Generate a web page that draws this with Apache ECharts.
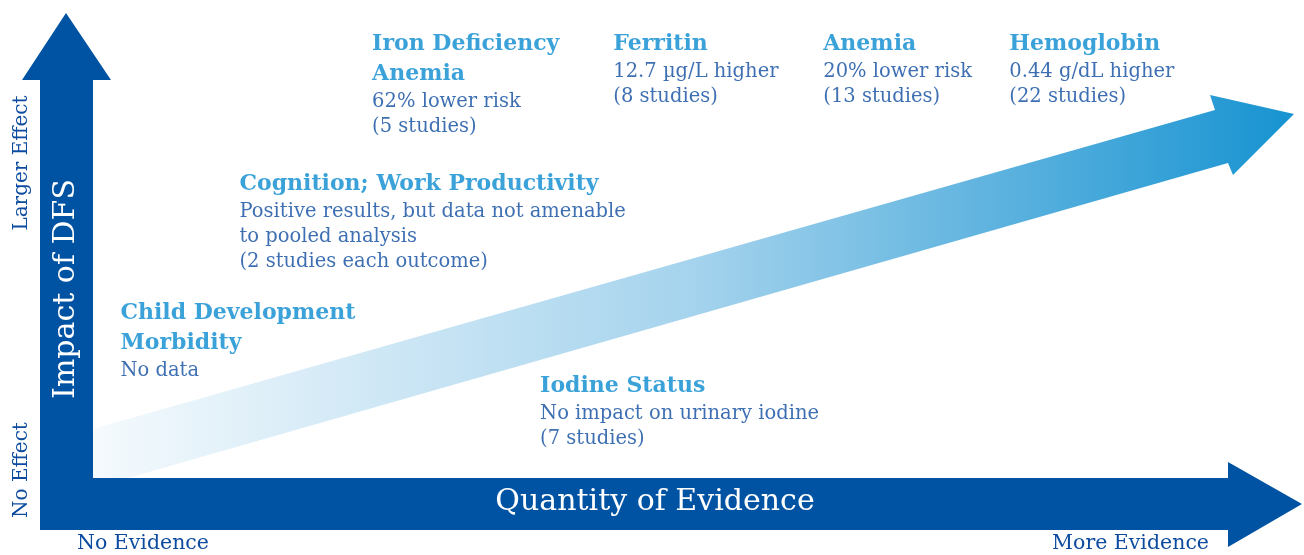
<!DOCTYPE html>
<html lang="en">
<head>
<meta charset="UTF-8">
<title>Impact of DFS vs Quantity of Evidence</title>
<script src="https://cdn.jsdelivr.net/npm/echarts@6/dist/echarts.min.js"></script>
<style>
  html, body { margin: 0; padding: 0; background: #fff; }
  #main { width: 1304px; height: 555px; }
</style>
</head>
<body>
<div id="main"></div>
<script>
// outcomes placed by quantity of evidence (x, 0-100) and impact of DFS (y, 0-100)
var outcomes = ['Iron Deficiency\nAnemia', 'Ferritin', 'Anemia', 'Hemoglobin',
                'Cognition; Work Productivity', 'Child Development\nMorbidity', 'Iodine Status'];
var findings = ['62% lower risk\n(5 studies)', '12.7 µg/L higher\n(8 studies)',
                '20% lower risk\n(13 studies)', '0.44 g/dL higher\n(22 studies)',
                'Positive results, but data not amenable\nto pooled analysis\n(2 studies each outcome)',
                'No data', 'No impact on urinary iodine\n(7 studies)'];
var evidence = [23.3, 43.4, 60.9, 76.4, 12.25, 2.33, 37.3];
var impact = [93.7, 93.7, 93.7, 93.7, 64.4, 37.4, 22.2];

var FONT = '"DejaVu Serif", serif';
var DARK = '#0053a3';
var TITLE = '#0a8bd0';
var BODY = '#0c4b9f';

var myChart = echarts.init(document.getElementById('main'));

var points = outcomes.map(function (name, i) {
  return { value: [evidence[i], impact[i]], name: name, desc: findings[i] };
});

function labelText(p) {
  var d = p.data;
  var lines = d.name.split('\n').map(function (s) { return '{t|' + s + '}'; });
  d.desc.split('\n').forEach(function (s) { lines.push('{b|' + s + '}'); });
  return lines.join('\n');
}

var option = {
  animation: false,
  grid: { left: 93, right: 11, top: 0, bottom: 77 },
  xAxis: { type: 'value', min: 0, max: 100, show: false },
  yAxis: { type: 'value', min: 0, max: 100, show: false },
  graphic: [
    // rising gradient arrow
    {
      type: 'polygon', z: 1,
      shape: { points: [[93, 429], [1215, 110], [1210, 95], [1294, 114], [1233, 175], [1228, 163], [93, 488]] },
      style: {
        fill: new echarts.graphic.LinearGradient(0, 0, 1, 0, [
          { offset: 0, color: '#f5fafd' },
          { offset: 0.5, color: '#a5d3ed' },
          { offset: 1, color: '#1793d1' }
        ])
      }
    },
    // vertical axis arrow
    {
      type: 'polygon', z: 2,
      shape: { points: [[40, 530], [40, 80], [22, 80], [66, 13], [111, 80], [93, 80], [93, 530]] },
      style: { fill: DARK }
    },
    // horizontal axis arrow
    {
      type: 'polygon', z: 2,
      shape: { points: [[40, 478], [1228, 478], [1228, 462], [1302, 504], [1228, 547], [1228, 530], [40, 530]] },
      style: { fill: DARK }
    },
    {
      type: 'text', z: 3, x: 66, y: 289, rotation: Math.PI / 2,
      style: { text: 'Impact of DFS', fill: '#fff', font: '500 30px ' + FONT, align: 'center', verticalAlign: 'middle' }
    },
    {
      type: 'text', z: 3, x: 655, y: 502,
      style: { text: 'Quantity of Evidence', fill: '#fff', font: '500 30px ' + FONT, align: 'center', verticalAlign: 'middle' }
    },
    {
      type: 'text', z: 3, x: 22, y: 163, rotation: Math.PI / 2,
      style: { text: 'Larger Effect', fill: BODY, font: '20px ' + FONT, align: 'center', verticalAlign: 'middle' }
    },
    {
      type: 'text', z: 3, x: 22, y: 470, rotation: Math.PI / 2,
      style: { text: 'No Effect', fill: BODY, font: '20px ' + FONT, align: 'center', verticalAlign: 'middle' }
    },
    {
      type: 'text', z: 3, x: 77, y: 544,
      style: { text: 'No Evidence', fill: BODY, font: '20.5px ' + FONT, align: 'left', verticalAlign: 'middle' }
    },
    {
      type: 'text', z: 3, x: 1209, y: 544,
      style: { text: 'More Evidence', fill: BODY, font: '20.5px ' + FONT, align: 'right', verticalAlign: 'middle' }
    }
  ],
  series: [
    {
      type: 'scatter',
      z: 5,
      symbolSize: 1,
      itemStyle: { color: 'rgba(0,0,0,0)' },
      data: points,
      label: {
        show: true,
        position: [0, 0],
        align: 'left',
        verticalAlign: 'top',
        formatter: labelText,
        rich: {
          t: { fontFamily: FONT, fontSize: 22, fontWeight: 'bold', color: TITLE, lineHeight: 30 },
          b: { fontFamily: FONT, fontSize: 19.5, color: BODY, lineHeight: 25 }
        }
      }
    }
  ]
};
myChart.setOption(option);
</script>
</body>
</html>
